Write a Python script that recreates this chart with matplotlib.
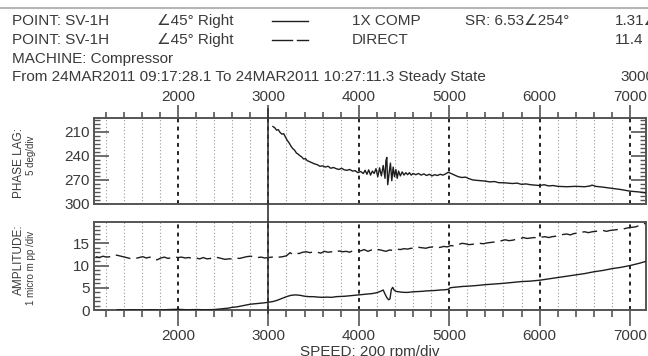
import matplotlib
matplotlib.use('Agg')
import matplotlib.pyplot as plt
from matplotlib.ticker import MultipleLocator
from matplotlib.lines import Line2D
import matplotlib.transforms as mtransforms

# ---------------- data ----------------
speed_ticks = [2000, 3000, 4000, 5000, 6000, 7000]
speed_labels = ["2000", "3000", "4000", "5000", "6000", "7000"]
phase_ticks = [210, 240, 270, 300]
amp_ticks = [0, 5, 10, 15]
cursor_rpm = 3000

phase_rpm = [3050, 3070, 3090, 3110, 3130, 3150, 3170, 3190, 3210, 3230, 3250, 3270, 3290, 3310,
             3330, 3350, 3370, 3390, 3410, 3430, 3450, 3480, 3510, 3540, 3570, 3600, 3630, 3660,
             3690, 3720, 3750, 3780, 3810, 3840, 3870, 3900, 3930, 3960, 3990, 4020, 4050, 4070,
             4090, 4110, 4130, 4150, 4170, 4190, 4210, 4230, 4250, 4270, 4290, 4300, 4310, 4320,
             4335, 4350, 4365, 4380, 4395, 4410, 4425, 4440, 4460, 4480, 4500, 4520, 4540, 4560,
             4580, 4600, 4630, 4660, 4690, 4720, 4750, 4780, 4810, 4840, 4870, 4900, 4930, 4960,
             4990, 5010, 5040, 5070, 5100, 5140, 5180, 5220, 5260, 5300, 5350, 5400, 5450, 5500,
             5550, 5600, 5650, 5700, 5750, 5800, 5850, 5900, 5950, 6000, 6050, 6100, 6150, 6200,
             6300, 6400, 6500, 6560, 6580, 6620, 6700, 6800, 6900, 6950, 7000, 7050, 7100, 7170]
phase_deg = [203.5, 205, 208, 207.5, 211, 213, 212.5, 217, 221, 224, 228, 231, 233, 236.5,
             238, 240, 241.5, 244, 243.5, 246, 247, 248.5, 250, 251, 253, 252.5, 254, 253,
             255.5, 254.5, 256, 257, 255.5, 257.5, 258, 257, 259, 258.5, 261, 259.5, 262, 258,
             263, 257.5, 264, 259, 262, 256, 266, 255, 265, 252, 268, 246, 242, 276,
             262, 249, 271, 254, 266, 257, 268, 259, 265, 260, 264, 261, 263.5, 261,
             264, 262, 263.5, 262, 264, 262.5, 264.5, 263, 265, 263.5, 264.5, 263, 264, 262.5,
             260.5, 261.5, 263, 264.5, 266, 267, 266.5, 268.5, 270, 270.5, 271, 271.5, 272.5, 272,
             273.5, 273.5, 274, 274.5, 274, 275.5, 275, 276, 276.5, 277, 276, 277.5, 277, 278,
             278.5, 278, 278.5, 277.5, 276.5, 278, 279, 280.5, 282, 283, 284, 284.5, 285, 286]

amp1x_rpm = [1330, 1400, 1500, 1600, 1700, 1800, 1900, 2000, 2100, 2200, 2300, 2400, 2450, 2500,
             2550, 2600, 2650, 2700, 2750, 2800, 2850, 2900, 2950, 3000, 3050, 3100, 3150, 3200,
             3250, 3300, 3350, 3400, 3450, 3500, 3550, 3600, 3650, 3700, 3750, 3800, 3850, 3900,
             3950, 4000, 4050, 4100, 4150, 4200, 4240, 4270, 4290, 4310, 4330, 4345, 4360, 4375,
             4390, 4410, 4440, 4480, 4520, 4560, 4600, 4650, 4700, 4750, 4800, 4850, 4900, 4950,
             4990, 5010, 5050, 5100, 5150, 5200, 5300, 5400, 5500, 5600, 5700, 5800, 5900, 6000,
             6100, 6200, 6300, 6400, 6500, 6600, 6700, 6800, 6900, 7000, 7100, 7170]
amp1x_val = [0.05, 0.0, 0.05, 0.0, 0.05, 0.0, 0.1, 0.15, 0.05, 0.1, 0.05, 0.1, 0.2, 0.3,
             0.4, 0.6, 0.7, 0.9, 1.1, 1.3, 1.4, 1.5, 1.6, 1.75, 1.9, 2.2, 2.6, 3.0,
             3.3, 3.4, 3.3, 3.1, 3.0, 3.0, 2.9, 2.85, 2.9, 2.85, 3.0, 3.05, 3.1, 3.2,
             3.3, 3.4, 3.5, 3.6, 3.7, 3.9, 4.2, 4.5, 3.6, 2.8, 2.3, 2.5, 4.6, 5.1,
             4.5, 4.2, 4.1, 4.0, 3.95, 4.0, 4.1, 4.15, 4.2, 4.3, 4.35, 4.4, 4.5, 4.55,
             4.65, 5.0, 5.1, 5.2, 5.3, 5.35, 5.5, 5.7, 5.85, 6.0, 6.2, 6.4, 6.5, 6.7,
             7.0, 7.3, 7.6, 7.9, 8.2, 8.6, 8.9, 9.3, 9.6, 10.0, 10.5, 10.9]

direct_rpm = [1090, 1130, 1170, 1210, 1250, 1290, 1330, 1370, 1410, 1450, 1490, 1530, 1570, 1610,
              1650, 1690, 1730, 1770, 1810, 1850, 1890, 1930, 1970, 2000, 2040, 2080, 2120, 2160,
              2200, 2240, 2280, 2320, 2360, 2400, 2440, 2480, 2520, 2560, 2600, 2640, 2680, 2720,
              2760, 2800, 2840, 2880, 2920, 2960, 3000, 3040, 3080, 3120, 3160, 3200, 3240, 3270,
              3300, 3340, 3380, 3420, 3460, 3500, 3540, 3580, 3620, 3660, 3700, 3740, 3780, 3820,
              3860, 3900, 3940, 3980, 4020, 4060, 4100, 4140, 4180, 4220, 4260, 4300, 4340, 4380,
              4420, 4460, 4500, 4540, 4580, 4620, 4660, 4700, 4740, 4780, 4820, 4860, 4900, 4940,
              4980, 5020, 5060, 5100, 5140, 5180, 5220, 5260, 5300, 5340, 5380, 5420, 5460, 5500,
              5540, 5580, 5620, 5660, 5700, 5740, 5780, 5820, 5860, 5900, 5940, 5980, 6020, 6060,
              6100, 6140, 6180, 6220, 6260, 6300, 6340, 6380, 6420, 6460, 6500, 6540, 6580, 6620,
              6660, 6700, 6740, 6780, 6820, 6860, 6900, 6940, 6980, 7020, 7060, 7100, 7140, 7170]
direct_val = [12.0, 11.8, 12.1, 11.9, 12.0, 12.4, 12.3, 12.1, 11.9, 11.7, 11.5, 11.6, 11.8, 12.0,
              11.7, 11.9, 11.4, 11.3, 11.7, 11.9, 11.6, 11.8, 11.9, 11.8, 11.9, 11.7, 11.8, 11.6,
              11.7, 11.5, 11.8, 11.5, 11.6, 11.9, 11.8, 11.6, 11.4, 11.5, 11.5, 11.7, 11.6, 11.8,
              12.0, 12.1, 12.0, 11.8, 11.9, 11.7, 11.8, 11.9, 12.1, 11.9, 12.0, 12.2, 12.9, 12.5,
              12.8, 12.7, 13.0, 13.1, 12.9, 13.1, 13.0, 12.8, 13.2, 13.0, 13.1, 12.9, 13.3, 13.1,
              13.2, 13.0, 13.4, 13.5, 13.3, 13.6, 13.2, 13.5, 13.3, 13.6, 13.4, 13.2, 13.5, 13.4,
              13.7, 13.6, 13.8, 13.7, 13.9, 13.8, 14.1, 14.0, 13.9, 14.1, 14.2, 14.0, 14.1, 14.3,
              14.2, 14.5, 14.4, 14.7, 15.0, 14.9, 14.7, 14.8, 14.9, 15.0, 14.9, 15.1, 15.2, 15.3,
              15.4, 15.6, 15.8, 15.6, 15.7, 15.9, 16.0, 16.3, 16.1, 16.2, 16.3, 16.2, 16.4, 16.5,
              16.3, 16.5, 16.6, 16.8, 17.0, 17.1, 16.9, 17.2, 17.3, 17.5, 17.6, 17.4, 17.6, 17.7,
              17.8, 17.9, 17.7, 17.9, 18.0, 18.1, 18.2, 18.3, 18.5, 18.6, 18.7, 19.0, 19.3, 19.5]

# ---------------- figure ----------------
W, H = 648, 356
fig = plt.figure(figsize=(W / 100, H / 100), dpi=100)
fig.patch.set_facecolor('white')
FAM = ['Liberation Sans', 'DejaVu Sans']
plt.rcParams['font.family'] = FAM


def fx(x):
    return x / W


def fy(y):
    return 1 - y / H


L, R = 94, 646
ax1 = fig.add_axes([fx(L), fy(204), fx(R) - fx(L), fy(118) - fy(204)])
ax2 = fig.add_axes([fx(L), fy(310), fx(R) - fx(L), fy(222) - fy(310)])

spine_c = '#555555'
tick_c = '#555555'
text_c = '#3a3a3a'
line_c = '#1e1e1e'

for ax in (ax1, ax2):
    ax.set_xlim(1071, 7177)
    for s in ax.spines.values():
        s.set_color(spine_c)
        s.set_linewidth(1.4)
    ax.set_xticks(speed_ticks)
    ax.set_xticklabels(speed_labels)
    ax.xaxis.set_minor_locator(MultipleLocator(200))
    ax.grid(True, which='major', axis='x', color='#222222', lw=1.4, ls=(0, (2, 2.2)))
    ax.grid(True, which='minor', axis='x', color='#9a9a9a', lw=0.8, ls=(0, (1, 2)))
    ax.set_axisbelow(True)

# top panel
ax1.plot(phase_rpm, phase_deg, color=line_c, lw=1.0, zorder=3)
ax1.set_ylim(300, 192.9)
ax1.set_yticks(phase_ticks)
ax1.yaxis.set_minor_locator(MultipleLocator(5))
ax1.xaxis.set_ticks_position('top')
ax1.tick_params(axis='x', which='major', direction='out', length=9.4, width=1.2,
                color=tick_c, labelsize=11, labelcolor=text_c, pad=1.0,
                top=True, bottom=False, labeltop=True, labelbottom=False)
ax1.tick_params(axis='x', which='minor', direction='out', length=4.5, width=1.2,
                color=tick_c, top=True, bottom=False)
ax1.tick_params(axis='y', which='major', direction='in', length=10.8, width=1.2,
                color=tick_c, labelsize=11, labelcolor=text_c, pad=3,
                left=True, right=True, labelleft=True, labelright=False)
ax1.tick_params(axis='y', which='minor', direction='in', length=4.5, width=1.0,
                color=tick_c, left=True, right=True)

# bottom panel
ax2.plot(direct_rpm, direct_val, color=line_c, lw=1.0, ls=(0, (10.8, 4.3)), zorder=3)
ax2.plot(amp1x_rpm, amp1x_val, color=line_c, lw=1.0, zorder=3)
ax2.set_ylim(0, 19.8)
ax2.set_yticks(amp_ticks)
ax2.yaxis.set_minor_locator(MultipleLocator(1))
ax2.tick_params(axis='x', which='major', direction='out', length=11.5, width=1.2,
                color=tick_c, labelsize=11, labelcolor=text_c, pad=2.5,
                top=False, bottom=True)
ax2.tick_params(axis='x', which='minor', direction='out', length=5, width=1.2,
                color=tick_c, top=False, bottom=True)
ax2.tick_params(axis='y', which='major', direction='in', length=10.8, width=1.2,
                color=tick_c, labelsize=11, labelcolor=text_c, pad=3,
                left=True, right=False)
ax2.tick_params(axis='y', which='minor', direction='in', length=4.5, width=1.0,
                color=tick_c, left=True, right=False)

# cursor line through both panels
trans = mtransforms.blended_transform_factory(ax1.transData, fig.transFigure)
fig.add_artist(Line2D([cursor_rpm, cursor_rpm], [fy(109), fy(313)], transform=trans,
                      color='#333333', lw=1.2, zorder=5))

# window frame line
fig.add_artist(Line2D([0, 1], [fy(8), fy(8)], transform=fig.transFigure,
                      color='#b5b5b5', lw=1.5))

# header text
fs = 11


def t(x, y, s, **kw):
    fig.text(fx(x), fy(y), s, fontsize=kw.pop('fontsize', fs), color=text_c,
             va=kw.pop('va', 'center'), family=FAM, **kw)


t(12, 21, 'POINT: SV-1H')
t(157, 21, '\u222045\u00b0 Right')
t(352, 21, '1X COMP')
t(465, 21, 'SR: 6.53\u2220254\u00b0')
t(615, 21, '1.31\u2220')
t(12, 40, 'POINT: SV-1H')
t(157, 40, '\u222045\u00b0 Right')
t(352, 40, 'DIRECT')
t(615, 40, '11.4')
t(12, 59, 'MACHINE: Compressor')
t(12, 77, 'From 24MAR2011 09:17:28.1 To 24MAR2011 10:27:11.3 Steady State')
t(620, 77, '3000')

fig.add_artist(Line2D([fx(272), fx(308)], [fy(21), fy(21)], transform=fig.transFigure,
                      color=line_c, lw=1.0))
fig.add_artist(Line2D([fx(272), fx(292)], [fy(40), fy(40)], transform=fig.transFigure,
                      color=line_c, lw=1.0))
fig.add_artist(Line2D([fx(297), fx(308)], [fy(40), fy(40)], transform=fig.transFigure,
                      color=line_c, lw=1.0))

# axis labels
t(19, 163, 'PHASE LAG:', rotation=90, ha='center', fontsize=8.5)
t(31, 155, '5 deg/div', rotation=90, ha='center', fontsize=7)
t(19, 260, 'AMPLITUDE:', rotation=90, ha='center', fontsize=8.5)
t(31, 268, '1 micro m pp /div', rotation=90, ha='center', fontsize=7)
t(370, 345, 'SPEED: 200 rpm/div', ha='center', va='top')

fig.savefig('out.png', dpi=100, facecolor='white')
